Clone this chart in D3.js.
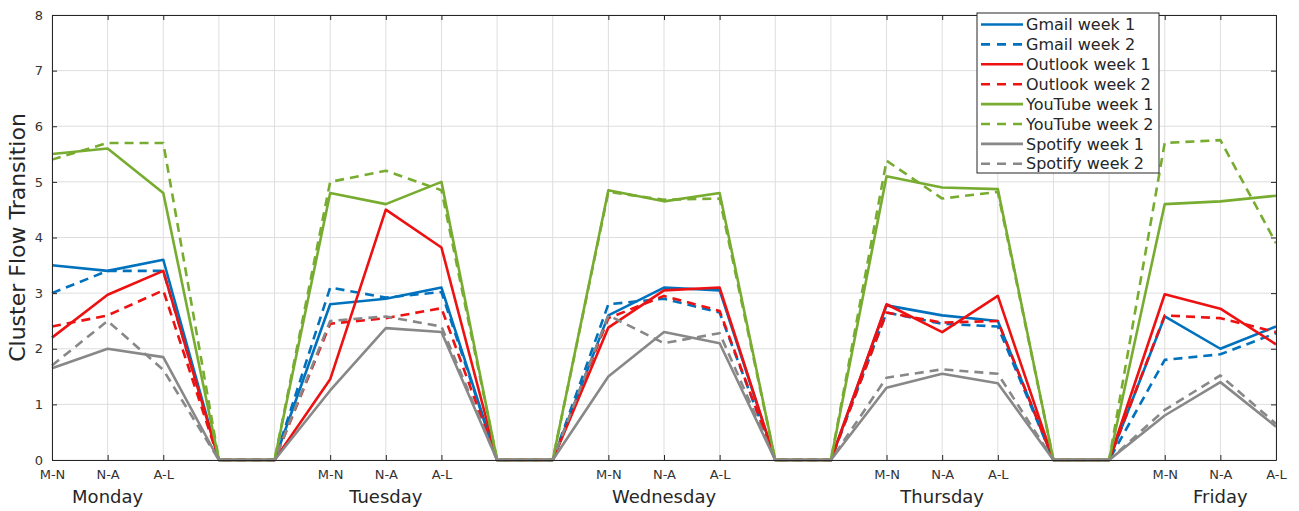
<!DOCTYPE html>
<html>
<head>
<meta charset="utf-8">
<script src="https://cdn.jsdelivr.net/npm/d3@7"></script>
<style>
  body { margin: 0; background: #fff; }
  svg { font-family: "DejaVu Sans", sans-serif; }
</style>
</head>
<body>
<div id="chart"></div>
<script>
// Data: 23 x slots, gap slots are the zero dips between days
const xLabels = ["M-N", "N-A", "A-L", "", "",
                 "M-N", "N-A", "A-L", "", "",
                 "M-N", "N-A", "A-L", "", "",
                 "M-N", "N-A", "A-L", "", "",
                 "M-N", "N-A", "A-L"];
const days = ["Monday", "Tuesday", "Wednesday", "Thursday", "Friday"];
const dayCenters = [1, 6, 11, 16, 21];
const yTicks = [0, 1, 2, 3, 4, 5, 6, 7, 8];

const gmail1   = [3.5, 3.4, 3.6, 0, 0, 2.8, 2.9, 3.1, 0, 0, 2.6, 3.1, 3.05, 0, 0, 2.78, 2.6, 2.5, 0, 0, 2.58, 2.0, 2.4];
const gmail2   = [3.0, 3.4, 3.4, 0, 0, 3.1, 2.92, 3.02, 0, 0, 2.8, 2.9, 2.65, 0, 0, 2.65, 2.45, 2.4, 0, 0, 1.8, 1.9, 2.28];
const outlook1 = [2.2, 2.97, 3.4, 0, 0, 1.45, 4.5, 3.82, 0, 0, 2.38, 3.05, 3.1, 0, 0, 2.8, 2.3, 2.95, 0, 0, 2.98, 2.72, 2.08];
const outlook2 = [2.4, 2.6, 3.05, 0, 0, 2.45, 2.55, 2.73, 0, 0, 2.55, 2.95, 2.68, 0, 0, 2.65, 2.47, 2.5, 0, 0, 2.6, 2.55, 2.3];
const youtube1 = [5.5, 5.6, 4.8, 0, 0, 4.8, 4.6, 5.0, 0, 0, 4.85, 4.65, 4.8, 0, 0, 5.1, 4.9, 4.87, 0, 0, 4.6, 4.65, 4.75];
const youtube2 = [5.4, 5.7, 5.7, 0, 0, 5.0, 5.2, 4.85, 0, 0, 4.82, 4.68, 4.7, 0, 0, 5.38, 4.7, 4.82, 0, 0, 5.7, 5.75, 3.9];
const spotify1 = [1.65, 2.0, 1.85, 0, 0, 1.25, 2.37, 2.3, 0, 0, 1.5, 2.3, 2.1, 0, 0, 1.3, 1.55, 1.38, 0, 0, 0.8, 1.4, 0.6];
const spotify2 = [1.7, 2.5, 1.62, 0, 0, 2.5, 2.58, 2.4, 0, 0, 2.6, 2.1, 2.28, 0, 0, 1.48, 1.63, 1.55, 0, 0, 0.9, 1.52, 0.65];

const seriesNames = ["Gmail week 1", "Gmail week 2", "Outlook week 1", "Outlook week 2",
                     "YouTube week 1", "YouTube week 2", "Spotify week 1", "Spotify week 2"];
const seriesValues = [gmail1, gmail2, outlook1, outlook2, youtube1, youtube2, spotify1, spotify2];
const seriesColors = ["#0072bd", "#0072bd", "#ee1111", "#ee1111", "#77ac30", "#77ac30", "#888888", "#888888"];
const seriesDashed = [false, true, false, true, false, true, false, true];

const width = 1299, height = 511;
const margin = {top: 15, right: 23, bottom: 51, left: 52};

const svg = d3.select("#chart").append("svg")
    .attr("width", width)
    .attr("height", height);

const x = d3.scaleLinear()
    .domain([0, xLabels.length - 1])
    .range([margin.left, width - margin.right]);

const y = d3.scaleLinear()
    .domain([0, 8])
    .range([height - margin.bottom, margin.top]);

const axisColor = "#262626";

// Grid
svg.append("g")
    .selectAll("line")
    .data(d3.range(xLabels.length))
    .join("line")
    .attr("x1", d => x(d)).attr("x2", d => x(d))
    .attr("y1", y(0)).attr("y2", y(8))
    .attr("stroke", "#dedede").attr("stroke-width", 1);

svg.append("g")
    .selectAll("line")
    .data(yTicks)
    .join("line")
    .attr("x1", x.range()[0]).attr("x2", x.range()[1])
    .attr("y1", d => y(d)).attr("y2", d => y(d))
    .attr("stroke", "#dedede").attr("stroke-width", 1);

// Lines
const line = d3.line()
    .x((d, i) => x(i))
    .y(d => y(d));

seriesValues.forEach((vals, k) => {
    svg.append("path")
        .datum(vals)
        .attr("fill", "none")
        .attr("stroke", seriesColors[k])
        .attr("stroke-width", 2.6)
        .attr("stroke-linejoin", "round")
        .attr("stroke-dasharray", seriesDashed[k] ? "9,6" : null)
        .attr("d", line);
});

// Axes (box style, inward ticks)
const tickIdx = d3.range(xLabels.length).filter(i => xLabels[i] !== "");

const bottomAxis = svg.append("g")
    .attr("transform", `translate(0,${y(0)})`)
    .call(d3.axisBottom(x).tickValues(tickIdx).tickSizeInner(-5).tickSizeOuter(0)
        .tickPadding(10).tickFormat(i => xLabels[i]));

const topAxis = svg.append("g")
    .attr("transform", `translate(0,${y(8)})`)
    .call(d3.axisTop(x).tickValues(tickIdx).tickSizeInner(-5).tickSizeOuter(0).tickFormat(""));

const leftAxis = svg.append("g")
    .attr("transform", `translate(${x.range()[0]},0)`)
    .call(d3.axisLeft(y).tickValues(yTicks).tickSizeInner(-5).tickSizeOuter(0).tickPadding(9));

const rightAxis = svg.append("g")
    .attr("transform", `translate(${x.range()[1]},0)`)
    .call(d3.axisRight(y).tickValues(yTicks).tickSizeInner(-5).tickSizeOuter(0).tickFormat(""));

[bottomAxis, topAxis, leftAxis, rightAxis].forEach(g => {
    g.select(".domain").attr("stroke", axisColor);
    g.selectAll(".tick line").attr("stroke", axisColor);
    g.selectAll("text").attr("fill", "#333")
        .style("font-family", "DejaVu Sans").style("font-size", "13px");
});

// Day labels
svg.append("g")
    .selectAll("text")
    .data(days)
    .join("text")
    .attr("x", (d, i) => x(dayCenters[i]))
    .attr("y", y(0) + 43)
    .attr("text-anchor", "middle")
    .attr("fill", axisColor)
    .style("font-size", "18px")
    .text(d => d);

// Y label
svg.append("text")
    .attr("transform", `translate(25,${(y(0) + y(8)) / 2}) rotate(-90)`)
    .attr("text-anchor", "middle")
    .attr("fill", axisColor)
    .style("font-size", "22px")
    .text("Cluster Flow Transition");

// Legend
const legend = svg.append("g").attr("transform", "translate(977,13)");
legend.append("rect")
    .attr("width", 182).attr("height", 160)
    .attr("fill", "#fff").attr("stroke", axisColor).attr("stroke-width", 1);

seriesNames.forEach((name, k) => {
    const ly = 11.5 + k * 19.9;
    legend.append("line")
        .attr("x1", 4).attr("x2", 46)
        .attr("y1", ly).attr("y2", ly)
        .attr("stroke", seriesColors[k])
        .attr("stroke-width", 2.6)
        .attr("stroke-dasharray", seriesDashed[k] ? "9,7" : null);
    legend.append("text")
        .attr("x", 49).attr("y", ly)
        .attr("dy", "0.35em")
        .attr("fill", axisColor)
        .style("font-size", "16px")
        .text(name);
});
</script>
</body>
</html>
